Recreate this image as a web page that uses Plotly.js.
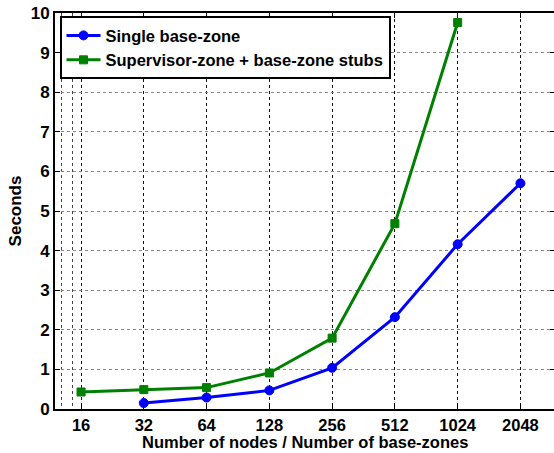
<!DOCTYPE html>
<html>
<head>
<meta charset="utf-8">
<script src="https://cdn.plot.ly/plotly-3.0.1.min.js"></script>
<style>
html,body{margin:0;padding:0;overflow:hidden;background:#fff;}
#chart{width:556px;height:453px;}
</style>
</head>
<body>
<div id="chart"></div>
<script>
// Data
const nodeTicks = [16, 32, 64, 128, 256, 512, 1024, 2048];
const nodeTickLabels = ['16', '32', '64', '128', '256', '512', '1024', '2048'];

const singleNodes = [32, 64, 128, 256, 512, 1024, 2048];
const singleSeconds = [0.15, 0.29, 0.47, 1.04, 2.32, 4.16, 5.70];

const supervisorNodes = [16, 32, 64, 128, 256, 512, 1024];
const supervisorSeconds = [0.43, 0.49, 0.54, 0.91, 1.79, 4.68, 9.76];

const seriesNames = ['Single base-zone', 'Supervisor-zone + base-zone stubs'];
const xTitle = 'Number of nodes / Number of base-zones';
const yTitle = 'Seconds';
const minorGridVals = [12.83, 14.49];

const font = {family: 'Liberation Sans, Arial, sans-serif', color: '#000', weight: 'bold'};

const traces = [
  {
    x: singleNodes, y: singleSeconds, name: seriesNames[0],
    type: 'scatter', mode: 'lines+markers',
    line: {color: '#0000ff', width: 3},
    marker: {symbol: 'circle', size: 9, color: '#0000ff', line: {color: '#0000ff', width: 1}}
  },
  {
    x: supervisorNodes, y: supervisorSeconds, name: seriesNames[1],
    type: 'scatter', mode: 'lines+markers',
    line: {color: '#008000', width: 3},
    marker: {symbol: 'square', size: 8, color: '#008000', line: {color: '#008000', width: 1}}
  }
];

const plotH = 453 - 13 - 44;

const layout = {
  width: 556, height: 453,
  margin: {l: 55, r: 1, t: 13, b: 44, pad: 0},
  paper_bgcolor: '#fff', plot_bgcolor: '#fff',
  showlegend: true,
  font: Object.assign({size: 16}, font),
  xaxis: {
    type: 'log',
    range: [Math.log10(12), Math.log10(3000)],
    tickmode: 'array', tickvals: nodeTicks, ticktext: nodeTickLabels,
    ticks: 'inside', ticklen: 5, tickwidth: 1, tickcolor: '#000',
    showline: true, linecolor: '#000', linewidth: 2, mirror: 'ticks',
    showgrid: true, gridcolor: '#111', gridwidth: 1, griddash: 'dot',
    zeroline: false,
    tickfont: Object.assign({size: 16.5}, font),
    ticklabelstandoff: 0,
    minor: {tickmode: 'array', tickvals: minorGridVals, showgrid: true, gridcolor: '#444', griddash: 'dot', gridwidth: 1, ticks: ''}
  },
  yaxis: {
    range: [0, 10], tickmode: 'linear', tick0: 0, dtick: 1,
    ticks: 'inside', ticklen: 5, tickwidth: 1, tickcolor: '#000',
    showline: true, linecolor: '#000', linewidth: 2, mirror: 'ticks',
    showgrid: true, gridcolor: '#888', gridwidth: 1, griddash: 'dot',
    zeroline: false,
    tickfont: Object.assign({size: 17}, font),
    ticklabelstandoff: 0,
    title: {text: yTitle, font: Object.assign({size: 17}, font), standoff: 5}
  },
  annotations: [
    {
      text: xTitle, xref: 'paper', yref: 'paper',
      x: 0.5, y: -(442 - 409) / plotH, xanchor: 'center', yanchor: 'middle',
      showarrow: false, font: Object.assign({size: 16.5}, font)
    }
  ],
  legend: {
    x: 0.009, y: 0.992, xanchor: 'left', yanchor: 'top',
    bgcolor: '#fff', bordercolor: '#000', borderwidth: 2,
    font: Object.assign({size: 16.5}, font),
    itemwidth: 34, tracegroupgap: 0
  }
};

Plotly.newPlot('chart', traces, layout, {displayModeBar: false, staticPlot: true});
</script>
</body>
</html>
